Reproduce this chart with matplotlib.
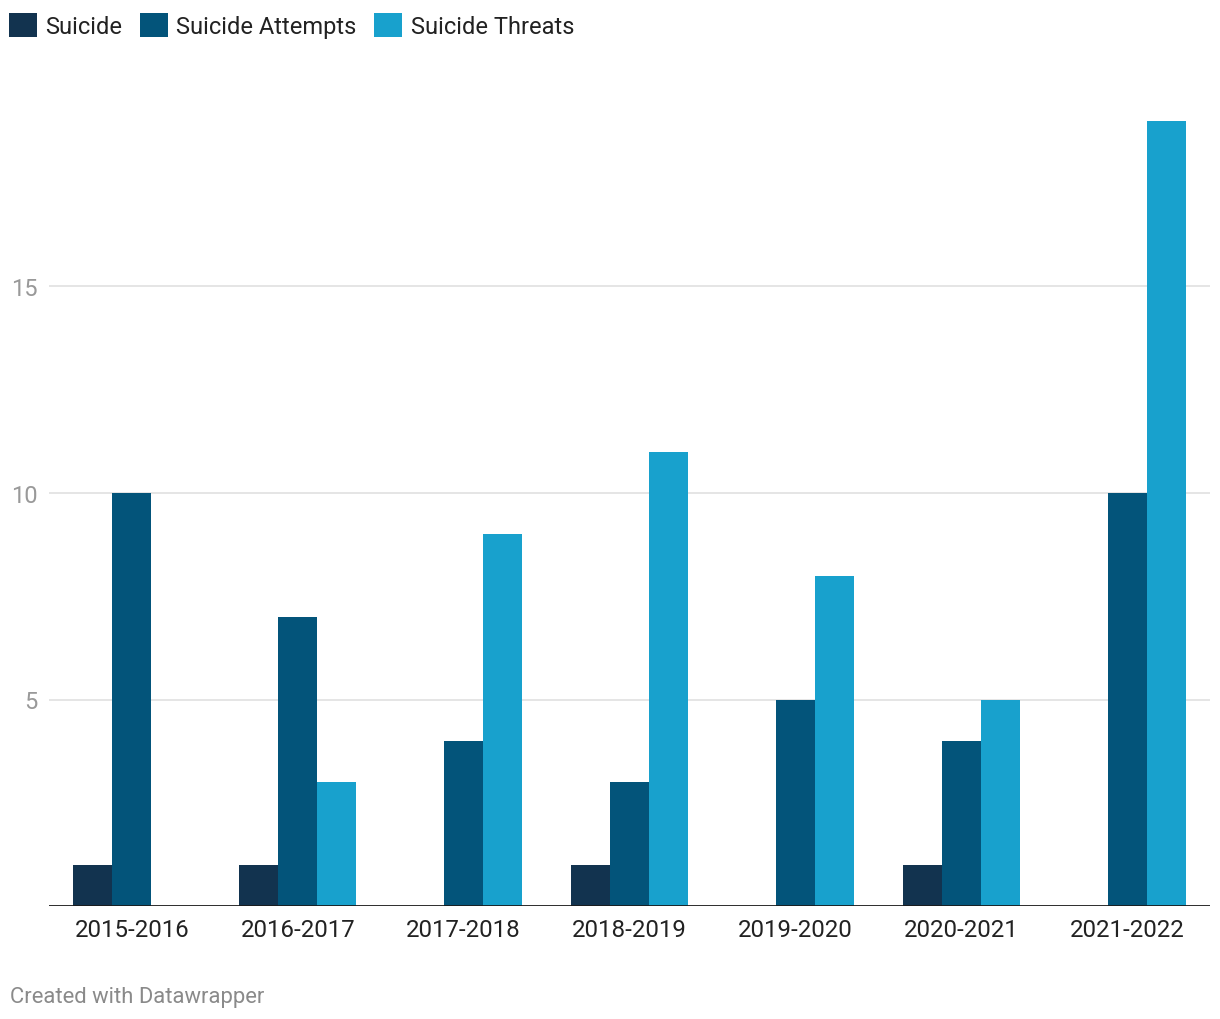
import matplotlib.pyplot as plt
import numpy as np

plt.rcParams['font.family'] = ['Roboto', 'DejaVu Sans']

# data
years = ['2015-2016', '2016-2017', '2017-2018', '2018-2019',
         '2019-2020', '2020-2021', '2021-2022']
suicide = [1, 1, 0, 1, 0, 1, 0]
attempts = [10, 7, 4, 3, 5, 4, 10]
threats = [0, 3, 9, 11, 8, 5, 19]

series = ['Suicide', 'Suicide Attempts', 'Suicide Threats']
colors = ['#12334f', '#03547a', '#18a1cd']

W, H = 1220, 1020
fig = plt.figure(figsize=(W / 100, H / 100), dpi=100)
ax = fig.add_axes([49 / W, 113 / H, (1210 - 49) / W, 826 / H])

x = np.arange(len(years))
bw = 0.235
for i, (vals, name, c) in enumerate(zip([suicide, attempts, threats], series, colors)):
    ax.bar(x + (i - 1) * bw, vals, width=bw, color=c, label=name, zorder=2)

ax.set_xlim(-0.5, len(years) - 0.5)
ax.set_ylim(0, 20)
ax.set_yticks([5, 10, 15])
ax.set_xticks(x)
ax.set_xticklabels(years)

ax.grid(axis='y', color='#e0e0e0', linewidth=1.2, zorder=0)
ax.axhline(0, color='#1a1a1a', linewidth=2, zorder=3)
for s in ax.spines.values():
    s.set_visible(False)

ax.tick_params(axis='y', length=0, pad=8, labelsize=17, labelcolor='#999999')
ax.tick_params(axis='x', length=0, pad=9, labelsize=17.3, labelcolor='#222222')

fig.legend(loc='upper left', bbox_to_anchor=(9 / W, 1 - 14 / H), ncol=3,
           frameon=False, fontsize=17, handlelength=1.19, handleheight=1.19,
           handletextpad=0.34, columnspacing=0.76, borderpad=0, borderaxespad=0,
           labelcolor='#222222')

fig.text(10 / W, 1 - 998 / H, 'Created with Datawrapper', fontsize=15.8,
         color='#8a8a8a', va='center', ha='left')

plt.savefig('out.png', dpi=100)
